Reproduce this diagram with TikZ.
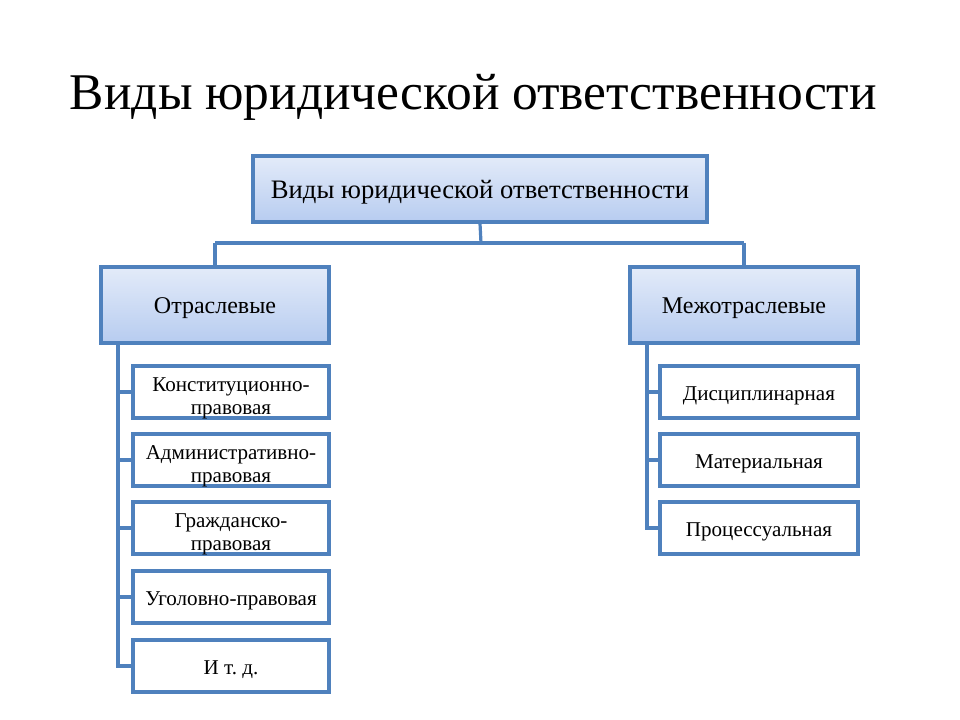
\documentclass[tikz,border=0pt]{standalone}
\usepackage{fontspec}
\setmainfont{Liberation Serif}
\usetikzlibrary{shadows}
\definecolor{bord}{HTML}{4F81BD}
\definecolor{gtop}{HTML}{E3EBF9}
\definecolor{gbot}{HTML}{B7CCF0}
\frenchspacing
\tikzset{
  conn/.style={draw=bord, line width=2.4pt},
  topbox/.style={draw=bord, line width=2.4pt, top color=gtop, bottom color=gbot,
    drop shadow={shadow xshift=1.8pt, shadow yshift=-1.8pt, opacity=0.35, fill=black!60},
    inner sep=0pt},
  childbox/.style={draw=bord, line width=2.4pt, fill=white, inner sep=0pt,
    minimum width=147pt, minimum height=39pt},
  childtext/.style={align=center, inner sep=0pt, yshift=-2.6pt,
    font=\fontsize{15.8}{16.8}\selectfont},
  twoline/.style={childtext, yshift=-2.2pt},
  boxtext/.style={inner sep=0pt, yshift=-2.4pt},
}
\begin{document}
\begin{tikzpicture}[x=0.75pt,y=-0.75pt]
\useasboundingbox (0,0) rectangle (960,720);
\node[anchor=base, font=\fontsize{38.6}{42}\selectfont] (title) at (473.5,110) {Виды юридической ответственности};

\node[topbox, minimum width=340.5pt, minimum height=49.5pt] (top) at (480,189) {};
\node[boxtext, font=\fontsize{20}{24}\selectfont] (topt) at (top.center) {Виды юридической ответственности};
\node[topbox, minimum width=171pt, minimum height=57pt] (otr) at (215,305) {};
\node[boxtext, font=\fontsize{18}{22}\selectfont] (otrt) at (otr.center) {Отраслевые};
\node[topbox, minimum width=171pt, minimum height=57pt] (mezh) at (744,305) {};
\node[boxtext, font=\fontsize{18}{22}\selectfont] (mezht) at (mezh.center) {Межотраслевые};

\node[childbox] (l1) at (231,392) {};
\node[childbox] (l2) at (231,460) {};
\node[childbox] (l3) at (231,528) {};
\node[childbox] (l4) at (231,597) {};
\node[childbox] (l5) at (231,666) {};
\node[twoline] (l1t) at (l1.center) {Конституционно-\\правовая};
\node[twoline] (l2t) at (l2.center) {Административно-\\правовая};
\node[twoline] (l3t) at (l3.center) {Гражданско-\\правовая};
\node[childtext] (l4t) at (l4.center) {Уголовно-правовая};
\node[childtext] (l5t) at (l5.center) {И т.\ д.};

\node[childbox, minimum width=148.5pt] (r1) at (759,392) {};
\node[childbox, minimum width=148.5pt] (r2) at (759,460) {};
\node[childbox, minimum width=148.5pt] (r3) at (759,528) {};
\node[childtext] (r1t) at (r1.center) {Дисциплинарная};
\node[childtext] (r2t) at (r2.center) {Материальная};
\node[childtext] (r3t) at (r3.center) {Процессуальная};

\coordinate (busM) at (481,243);
\coordinate (busL) at (215,243);
\coordinate (busR) at (744,243);
\draw[conn] (top.south) -- (busM);
\draw[conn] (busL) -- (busR);
\draw[conn] (busL) -- (otr.north);
\draw[conn] (busR) -- (mezh.north);

\coordinate (lv) at (118,0);
\coordinate (rv) at (647,0);
\draw[conn] (lv |- otr.south) -- (lv |- l5.west) -- (l5.west);
\foreach \n in {l1,l2,l3,l4} \draw[conn] (lv |- \n.west) -- (\n.west);
\draw[conn] (rv |- mezh.south) -- (rv |- r3.west) -- (r3.west);
\foreach \n in {r1,r2} \draw[conn] (rv |- \n.west) -- (\n.west);
\end{tikzpicture}
\end{document}
